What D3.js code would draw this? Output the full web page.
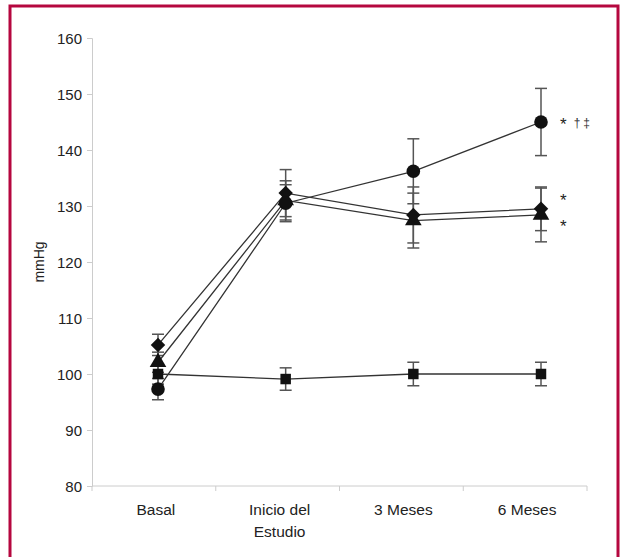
<!DOCTYPE html>
<html><head><meta charset="utf-8">
<script src="https://cdn.jsdelivr.net/npm/d3@7"></script>
<style>body{margin:0;background:#fff}svg{display:block}text{font-family:"Liberation Sans",Arial,sans-serif}</style>
</head><body>
<script>
const categories = ["Basal", "Inicio del\nEstudio", "3 Meses", "6 Meses"];
const yTicks = [80, 90, 100, 110, 120, 130, 140, 150, 160];
const seriesSquare = [100, 99.1, 100, 100];
const errSquare = [1.8, 2.0, 2.1, 2.1];
const seriesTriangle = [102.1, 131.0, 127.4, 128.4];
const errTriangle = [1.8, 3.5, 4.9, 4.8];
const seriesDiamond = [105.2, 132.3, 128.4, 129.5];
const errDiamond = [1.9, 4.2, 5.0, 3.9];
const seriesCircle = [97.3, 130.5, 136.2, 145.0];
const errCircle = [1.9, 3.3, 5.8, 6.0];
const annotations = [
  {cat: 3, value: 145.0, star: "*", marks: "\u2020\u2021"},
  {cat: 3, value: 131.5, star: "*", marks: ""},
  {cat: 3, value: 126.7, star: "*", marks: ""}
];

const W = 621, H = 557;
const svg = d3.select("body").append("svg").attr("width", W).attr("height", H);

// border
svg.append("rect").attr("x", 10).attr("y", 6).attr("width", 608).attr("height", 600)
  .attr("fill", "none").attr("stroke", "#b5073f").attr("stroke-width", 3);

const y = d3.scaleLinear().domain([80, 160]).range([486, 38]);
const xBand = d3.scaleBand().domain(categories).range([92, 587]);
const xPt = d3.scalePoint().domain(categories).range([158, 541]);

// y axis
const yAxis = svg.append("g").attr("transform", "translate(92,0)")
  .call(d3.axisLeft(y).tickValues(yTicks).tickSize(5).tickPadding(5).tickFormat(d3.format("d")));
yAxis.select(".domain").attr("stroke", "#ccc");
yAxis.selectAll(".tick line").attr("stroke", "#ccc");
yAxis.selectAll(".tick text").attr("font-size", 15).attr("fill", "#222").attr("font-family", "Liberation Sans, Arial, sans-serif").attr("dy", "0.35em");

// x axis
const xg = svg.append("g").attr("transform", "translate(0,486)");
xg.append("line").attr("x1", 92).attr("x2", 587).attr("stroke", "#ccc");
const bounds = categories.map(c => xBand(c)).concat([xBand.range()[1]]);
xg.selectAll("line.t").data(bounds).enter().append("line").attr("class", "t")
  .attr("x1", d => d).attr("x2", d => d).attr("y1", 0).attr("y2", 5).attr("stroke", "#ccc");
categories.forEach(c => {
  const cx = xBand(c) + xBand.bandwidth() / 2 + 2;
  const t = xg.append("text").attr("x", cx).attr("y", 29)
    .attr("text-anchor", "middle").attr("font-size", 15.5).attr("fill", "#222");
  c.split("\n").forEach((s, i) => t.append("tspan").attr("x", cx).attr("dy", i ? 22 : 0).text(s));
});

// y label
svg.append("text").attr("transform", "translate(44,262) rotate(-90)").attr("text-anchor", "middle")
  .attr("font-size", 14).attr("fill", "#222").text("mmHg");

const diamond = { draw(ctx, size) { const r = Math.sqrt(size / 2); ctx.moveTo(0, -r); ctx.lineTo(r, 0); ctx.lineTo(0, r); ctx.lineTo(-r, 0); ctx.closePath(); } };

const series = [
  {vals: seriesSquare, err: errSquare, sym: d3.symbolSquare, size: 110},
  {vals: seriesTriangle, err: errTriangle, sym: d3.symbolTriangle, size: 120},
  {vals: seriesDiamond, err: errDiamond, sym: diamond, size: 105},
  {vals: seriesCircle, err: errCircle, sym: d3.symbolCircle, size: 145}
];

const line = d3.line().x((d, i) => xPt(categories[i])).y(d => y(d));
// error bars
series.forEach(s => {
  const g = svg.append("g");
  s.vals.forEach((v, i) => {
    const cx = xPt(categories[i]);
    const lo = y(v - s.err[i]), hi = y(v + s.err[i]);
    g.append("line").attr("x1", cx).attr("x2", cx).attr("y1", lo).attr("y2", hi).attr("stroke", "#555").attr("stroke-width", 1.5);
    [lo, hi].forEach(yy => g.append("line").attr("x1", cx - 6).attr("x2", cx + 6).attr("y1", yy).attr("y2", yy).attr("stroke", "#555").attr("stroke-width", 1.5));
  });
});
// lines
series.forEach(s => {
  svg.append("path").attr("d", line(s.vals)).attr("fill", "none").attr("stroke", "#333").attr("stroke-width", 1.3);
});
// markers
series.forEach(s => {
  svg.append("g").selectAll("path").data(s.vals).enter().append("path")
    .attr("d", d3.symbol().type(s.sym).size(s.size))
    .attr("transform", (d, i) => `translate(${xPt(categories[i])},${y(d)})`)
    .attr("fill", "#111");
});

// annotations
annotations.forEach(a => {
  const t = svg.append("text").attr("x", xPt(categories[a.cat]) + 19).attr("y", y(a.value) + 8)
    .attr("font-size", 17).attr("fill", "#222");
  t.append("tspan").text(a.star);
  if (a.marks) t.append("tspan").attr("font-size", 12).attr("dx", 7).attr("dy", -3).attr("letter-spacing", 3).attr("fill", "#333").text(a.marks);
});
</script>
</body></html>
